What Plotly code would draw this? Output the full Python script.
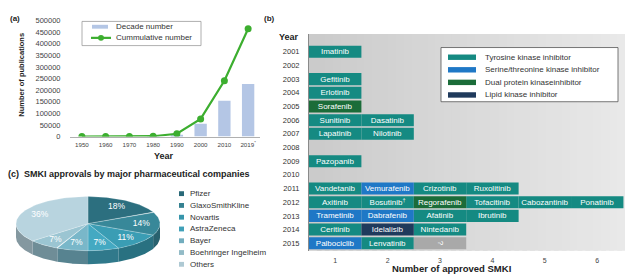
import math
import plotly.graph_objects as go

W, H = 625, 278
FONT = "Liberation Sans, Arial, sans-serif"

# ---------------- data ----------------
# Panel (a)
decades = ["1950", "1960", "1970", "1980", "1990", "2000", "2010", "2019*"]
decade_labels = ["1950", "1960", "1970", "1980", "1990", "2000", "2010", "2019<sup>*</sup>"]
decade_number = [0, 0, 0, 500, 8000, 55000, 154000, 226000]
cumulative_number = [0, 100, 300, 1500, 12000, 76000, 240000, 464000]

# Panel (b)
drug_year = [2001, 2003, 2004, 2005, 2006, 2006, 2007, 2007, 2009,
             2011, 2011, 2011, 2011,
             2012, 2012, 2012, 2012, 2012, 2012,
             2013, 2013, 2013, 2013,
             2014, 2014, 2014,
             2015, 2015, 2015]
drug_name = ["Imatinib", "Gefitinib", "Erlotinib", "Sorafenib", "Sunitinib", "Dasatinib",
             "Lapatinib", "Nilotinib", "Pazopanib",
             "Vandetanib", "Vemurafenib", "Crizotinib", "Ruxolitinib",
             "Axitinib", "Bosutinib<sup>†</sup>", "Regorafenib", "Tofacitinib", "Cabozantinib", "Ponatinib",
             "Trametinib", "Dabrafenib", "Afatinib", "Ibrutinib",
             "Ceritinib", "Idelalisib", "Nintedanib",
             "Palbociclib", "Lenvatinib", "?"]
drug_class = ["TKI", "TKI", "TKI", "DUAL", "TKI", "TKI", "TKI", "TKI", "TKI",
              "TKI", "STK", "TKI", "TKI",
              "TKI", "TKI", "DUAL", "TKI", "TKI", "TKI",
              "STK", "STK", "TKI", "TKI",
              "TKI", "LIPID", "TKI",
              "STK", "TKI", "NA"]
class_codes = ["TKI", "STK", "DUAL", "LIPID", "NA"]
class_labels = ["Tyrosine kinase inhibitor", "Serine/threonine kinase inhibitor",
                "Dual protein kinaseinhibitor", "Lipid kinase inhibitor"]
class_colors = ["#158a82", "#1f78c6", "#1b6c39", "#1f3a5c", "#a9a9a9"]
year_ticks = list(range(2001, 2016))
approved_ticks = [1, 2, 3, 4, 5, 6]

# Panel (c)
companies = ["Pfizer", "GlaxoSmithKline", "Novartis", "AstraZeneca", "Bayer",
             "Boehringer Ingelheim", "Others"]
company_share = [18, 14, 11, 7, 7, 7, 36]
company_colors = ["#2c6f7f", "#388899", "#3a9db4", "#44a9c2", "#79b7c9", "#9bc5d2", "#b8d4df"]


def fx(x):
    return x / W


def fy(y):
    return 1 - y / H


def darken(hexc, f):
    r, g, b = int(hexc[1:3], 16), int(hexc[3:5], 16), int(hexc[5:7], 16)
    return "rgb(%d,%d,%d)" % (r * f, g * f, b * f)


fig = go.Figure()

# ---------------- panel (a) ----------------
fig.add_trace(go.Bar(x=decades, y=decade_number, width=0.52,
                     marker=dict(color="#b4c6e5", line=dict(width=0)),
                     xaxis="x", yaxis="y", hoverinfo="skip"))
fig.add_trace(go.Scatter(x=decades, y=cumulative_number, mode="lines+markers",
                         line=dict(color="#3cae2f", width=2.2),
                         marker=dict(size=7, color="#3cae2f"),
                         xaxis="x", yaxis="y", hoverinfo="skip"))

# ---------------- panel (b) ----------------
slots = []
count = {}
for yr in drug_year:
    count[yr] = count.get(yr, 0) + 1
    slots.append(count[yr])

for code, col in zip(class_codes, class_colors):
    idx = [i for i, c in enumerate(drug_class) if c == code]
    fig.add_trace(go.Bar(
        y=[drug_year[i] for i in idx],
        x=[1] * len(idx),
        base=[slots[i] - 0.5 for i in idx],
        orientation="h", width=0.88,
        marker=dict(color=col, line=dict(width=0)),
        text=[drug_name[i] for i in idx],
        textposition="inside", insidetextanchor="middle",
        textfont=dict(color="white", size=8, family=FONT),
        constraintext="none",
        xaxis="x2", yaxis="y2", hoverinfo="skip"))

# ---------------- panel (c) : elliptical 3D-looking pie ----------------
RY = 28 / 72
DEP = 14 / 72
total = sum(company_share)
starts, ends = [], []
c = 0
for v in company_share:
    starts.append(90 - 360 * c / total)
    c += v
    ends.append(90 - 360 * c / total)

# sides first
for a0, a1, col in zip(starts, ends, company_colors):
    hi, lo = min(a0, 0), max(a1, -180)
    if hi > lo:
        n = 40
        th = [math.radians(hi + (lo - hi) * k / n) for k in range(n + 1)]
        xs = [math.cos(t) for t in th] + [math.cos(t) for t in reversed(th)]
        ys = [RY * math.sin(t) for t in th] + [RY * math.sin(t) - DEP for t in reversed(th)]
        fig.add_trace(go.Scatter(x=xs + [xs[0]], y=ys + [ys[0]], mode="lines", fill="toself",
                                 fillcolor=darken(col, 0.72), line=dict(width=0),
                                 xaxis="x3", yaxis="y3", hoverinfo="skip"))
# faces
for a0, a1, col in zip(starts, ends, company_colors):
    n = 60
    th = [math.radians(a0 + (a1 - a0) * k / n) for k in range(n + 1)]
    xs = [0] + [math.cos(t) for t in th] + [0]
    ys = [0] + [RY * math.sin(t) for t in th] + [0]
    fig.add_trace(go.Scatter(x=xs, y=ys, mode="lines", fill="toself", fillcolor=col,
                             line=dict(width=0.6, color="rgba(255,255,255,0.35)"),
                             xaxis="x3", yaxis="y3", hoverinfo="skip"))
# percentage labels
lx, ly, lt = [], [], []
for a0, a1, v in zip(starts, ends, company_share):
    m = math.radians((a0 + a1) / 2)
    lx.append(0.74 * math.cos(m))
    ly.append(0.74 * RY * math.sin(m))
    lt.append("%d%%" % v)
fig.add_trace(go.Scatter(x=lx, y=ly, mode="text", text=lt,
                         textfont=dict(color="white", size=8.5, family=FONT),
                         xaxis="x3", yaxis="y3", hoverinfo="skip"))

# ---------------- layout ----------------
shapes = []
annotations = []

# grey gradient background of panel (b)
NS = 40
for k in range(NS):
    t = k / (NS - 1)
    g = int(203 + (233 - 203) * t)
    shapes.append(dict(type="rect", xref="x2 domain", yref="y2 domain",
                       x0=k / NS, x1=min(1, (k + 1.6) / NS), y0=0, y1=1,
                       fillcolor="rgb(%d,%d,%d)" % (g, g, g), line=dict(width=0), layer="below"))

# legend (a)
shapes.append(dict(type="rect", xref="paper", yref="paper", x0=fx(82), x1=fx(201),
                   y0=fy(43), y1=fy(18), line=dict(color="#9a9a9a", width=0.8), fillcolor="white"))
shapes.append(dict(type="rect", xref="paper", yref="paper", x0=fx(92), x1=fx(108),
                   y0=fy(25.5), y1=fy(21.5), line=dict(width=0), fillcolor="#b4c6e5"))
shapes.append(dict(type="line", xref="paper", yref="paper", x0=fx(91), x1=fx(111),
                   y0=fy(35), y1=fy(35), line=dict(color="#3cae2f", width=2.2)))
shapes.append(dict(type="circle", xref="paper", yref="paper", x0=fx(98), x1=fx(104),
                   y0=fy(38), y1=fy(32), line=dict(width=0), fillcolor="#3cae2f"))
annotations.append(dict(text="Decade number", x=fx(114), y=fy(23.5), xanchor="left", yanchor="middle"))
annotations.append(dict(text="Cummulative number", x=fx(114), y=fy(35), xanchor="left", yanchor="middle"))

# legend (b)
shapes.append(dict(type="rect", xref="paper", yref="paper", x0=fx(441), x1=fx(618),
                   y0=fy(101), y1=fy(45), line=dict(color="#555555", width=0.8), fillcolor="white"))
for i in range(4):
    yy = 55 + 13 * i
    shapes.append(dict(type="rect", xref="paper", yref="paper", x0=fx(448), x1=fx(476),
                       y0=fy(yy + 2.8), y1=fy(yy - 2.8), line=dict(width=0), fillcolor=class_colors[i]))
    annotations.append(dict(text=class_labels[i], x=fx(483), y=fy(yy), xanchor="left", yanchor="middle"))

# legend (c)
for i, (name, col) in enumerate(zip(companies, company_colors)):
    yy = 196 + 12.17 * i
    shapes.append(dict(type="rect", xref="paper", yref="paper", x0=fx(179), x1=fx(184),
                       y0=fy(yy + 2.5), y1=fy(yy - 2.5), line=dict(width=0), fillcolor=darken(col, 0.95)))
    annotations.append(dict(text=name, x=fx(188), y=fy(yy), xanchor="left", yanchor="middle"))

for a in annotations:
    a.update(xref="paper", yref="paper", showarrow=False,
             font=dict(size=8, color="#333333", family=FONT))


# titles and panel labels
def lab(text, x, y, size, xanchor="center", angle=0):
    annotations.append(dict(text=text, x=fx(x), y=fy(y), xref="paper", yref="paper",
                            xanchor=xanchor, yanchor="middle", showarrow=False, textangle=angle,
                            font=dict(size=size, color="#222222", family=FONT)))


lab("<b>(a)</b>", 8, 15, 8, "left")
lab("<b>(b)</b>", 262, 15, 8, "left")
lab("<b>(c)  SMKI approvals by major pharmaceutical companies</b>", 6, 176, 9, "left")
lab("<b>Year</b>", 164, 157, 9)
lab("<b>Number of publications</b>", 22, 73, 7.5, "center", -90)
lab("<b>Year</b>", 301, 34, 9, "right")
lab("<b>Number of approved SMKI</b>", 452, 273, 9.5)

fig.update_layout(
    width=W, height=H, margin=dict(l=0, r=0, t=0, b=0),
    paper_bgcolor="white", plot_bgcolor="white",
    barmode="overlay", showlegend=False,
    font=dict(family=FONT, size=8, color="#333333"),
    shapes=shapes, annotations=annotations,
    xaxis=dict(domain=[fx(70), fx(260)], anchor="y", type="category", range=[-0.5, 7.5],
               tickvals=decades, ticktext=decade_labels,
               tickfont=dict(size=6.2, color="#444444"),
               showline=True, linecolor="#b0b0b0", linewidth=1,
               showgrid=False, zeroline=False, ticks="outside", ticklen=2,
               tickcolor="rgba(0,0,0,0)", fixedrange=True),
    yaxis=dict(domain=[fy(137), fy(17)], anchor="x", range=[0, 500000], dtick=50000, tickformat="d",
               tickfont=dict(size=7.5, color="#444444"),
               showline=False, showgrid=False, zeroline=False,
               ticks="outside", ticklen=7, tickcolor="rgba(0,0,0,0)", fixedrange=True),
    xaxis2=dict(domain=[fx(309), 1.0], anchor="y2", range=[0.5, 6.53], tickvals=approved_ticks,
                tickfont=dict(size=7, color="#444444"),
                showline=False, showgrid=False, zeroline=False,
                ticks="outside", ticklen=3, tickcolor="rgba(0,0,0,0)", fixedrange=True),
    yaxis2=dict(domain=[fy(255), fy(31)], anchor="x2", range=[2015.55, 1999.7], tickvals=year_ticks,
                tickfont=dict(size=7.5, color="#333333"),
                showline=True, linecolor="#8a8a8a", linewidth=1,
                showgrid=False, zeroline=False,
                ticks="outside", ticklen=7, tickcolor="rgba(0,0,0,0)", fixedrange=True),
    xaxis3=dict(domain=[fx(8), fx(168)], anchor="y3", range=[-80 / 72, 80 / 72],
                visible=False, fixedrange=True),
    yaxis3=dict(domain=[fy(278), fy(190)], anchor="x3", range=[-51 / 72, 37 / 72],
                visible=False, fixedrange=True),
)

fig.write_html("out.html", config={"displayModeBar": False},
               post_script="document.body.style.margin='0';document.body.style.overflow='hidden';")
